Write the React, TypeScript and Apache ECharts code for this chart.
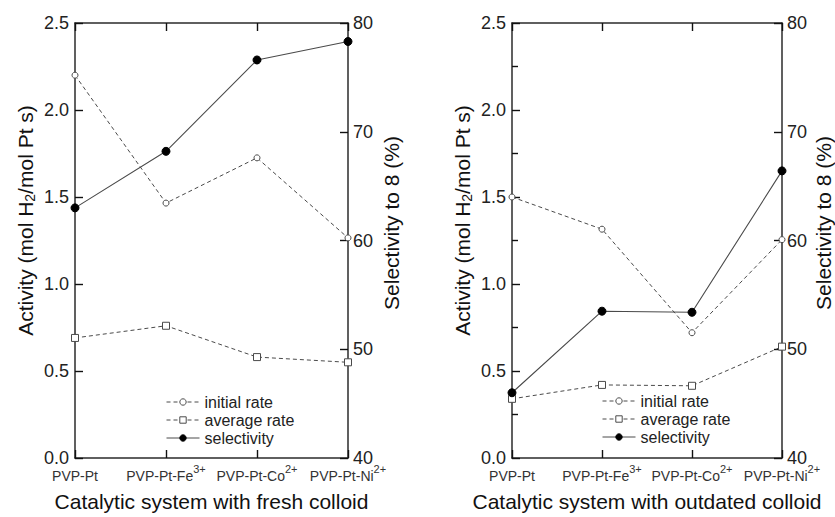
import React, { useEffect, useRef } from "react";
import * as echarts from "echarts";

const categories = ["PVP-Pt", "PVP-Pt-Fe", "PVP-Pt-Co", "PVP-Pt-Ni"];
const ionCharges = ["", "3+", "2+", "2+"];

const freshInitial = [2.2, 1.465, 1.725, 1.265];
const freshAverage = [0.69, 0.76, 0.58, 0.55];
const freshSelectivity = [63.0, 68.2, 76.6, 78.3];

const outdatedInitial = [1.5, 1.315, 0.72, 1.255];
const outdatedAverage = [0.34, 0.42, 0.415, 0.64];
const outdatedSelectivity = [46.0, 53.5, 53.4, 66.4];

const panelTitles = [
  "Catalytic system with fresh colloid",
  "Catalytic system with outdated colloid",
];
const legendNames = ["initial rate", "average rate", "selectivity"];

const FONT = "'Liberation Sans', Arial, Helvetica, sans-serif";
const AXIS = "#2b2b2b";
const TICK = "#111111";
const LINE = "#4a4a4a";

function tickStyle() {
  return { color: TICK, width: 1.4 };
}

function bottomX(gridIndex: number, title: string) {
  return {
    type: "category",
    gridIndex,
    data: categories,
    boundaryGap: false,
    axisLine: { lineStyle: { color: AXIS, width: 1.5 } },
    axisTick: { show: true, inside: true, length: 8, lineStyle: tickStyle() },
    splitLine: { show: false },
    axisLabel: {
      interval: 0,
      margin: 5,
      color: "#333",
      fontSize: 14,
      formatter: (v: string, i: number) =>
        ionCharges[i] ? `{a|${v}}{sup|${ionCharges[i]}}` : `{a|${v}}`,
      rich: {
        a: { fontSize: 14, color: "#333", padding: [6, 0, 0, 0] },
        sup: { fontSize: 11, color: "#333", padding: [0, 0, 9, 0] },
      },
    },
    name: title,
    nameLocation: "middle",
    nameGap: 33,
    nameTextStyle: { fontSize: 21, color: "#111" },
  };
}

function topX(gridIndex: number) {
  return {
    type: "category",
    gridIndex,
    position: "top",
    data: categories,
    boundaryGap: false,
    axisLine: { lineStyle: { color: AXIS, width: 1.5 } },
    axisTick: { show: true, inside: true, length: 8, lineStyle: tickStyle() },
    axisLabel: { show: false },
    splitLine: { show: false },
  };
}

function leftY(gridIndex: number, minor: boolean) {
  return {
    type: "value",
    gridIndex,
    position: "left",
    min: 0,
    max: 2.5,
    interval: 0.5,
    axisLine: { show: true, lineStyle: { color: AXIS, width: 1.5 } },
    axisTick: { show: true, inside: true, length: 8, lineStyle: tickStyle() },
    minorTick: { show: minor, splitNumber: 2, length: 6, lineStyle: tickStyle() },
    splitLine: { show: false },
    axisLabel: {
      margin: 6,
      fontSize: 18,
      color: "#222",
      formatter: (v: number) => v.toFixed(1),
    },
    name: "Activity (mol H{sub|2}/mol Pt s)",
    nameLocation: "middle",
    nameRotate: 90,
    nameGap: 38,
    nameTextStyle: {
      fontSize: 21,
      color: "#111",
      padding: [0, 0, 0, 40],
      rich: { sub: { fontSize: 14, color: "#111", padding: [9, 0, 0, 0] } },
    },
  };
}

function rightY(gridIndex: number, gap: number) {
  return {
    type: "value",
    gridIndex,
    position: "right",
    min: 40,
    max: 80,
    interval: 10,
    axisLine: { show: true, lineStyle: { color: AXIS, width: 1.5 } },
    axisTick: { show: true, inside: true, length: 8, lineStyle: tickStyle() },
    splitLine: { show: false },
    axisLabel: { margin: 5, fontSize: 18, color: "#222" },
    name: "Selectivity to 8 (%)",
    nameLocation: "middle",
    nameRotate: 90,
    nameGap: gap,
    nameTextStyle: { fontSize: 21, color: "#111", padding: [0, 0, 0, 35] },
  };
}

const openStyle = { color: "#fff", borderColor: LINE, borderWidth: 1 };
const filledStyle = { color: "#000", borderColor: "#000", borderWidth: 1 };

function panelSeries(
  xi: number,
  yl: number,
  yr: number,
  initial: number[],
  average: number[],
  selectivity: number[]
) {
  return [
    {
      name: legendNames[0],
      type: "line",
      xAxisIndex: xi,
      yAxisIndex: yl,
      data: initial,
      symbol: "circle",
      symbolSize: 6,
      itemStyle: { ...openStyle },
      lineStyle: { color: LINE, width: 1, type: [4, 3] },
      z: 3,
    },
    {
      name: legendNames[1],
      type: "line",
      xAxisIndex: xi,
      yAxisIndex: yl,
      data: average,
      symbol: "rect",
      symbolSize: 7,
      itemStyle: { ...openStyle },
      lineStyle: { color: LINE, width: 1, type: [4, 3] },
      z: 3,
    },
    {
      name: legendNames[2],
      type: "line",
      xAxisIndex: xi,
      yAxisIndex: yr,
      data: selectivity,
      symbol: "circle",
      symbolSize: 8,
      itemStyle: { ...filledStyle },
      lineStyle: { color: LINE, width: 1.1, type: "solid" },
      z: 4,
    },
  ];
}

function legendAt(left: number, top: number) {
  return {
    left,
    top,
    orient: "vertical",
    padding: 0,
    itemWidth: 33,
    itemHeight: 8,
    itemGap: 2,
    selectedMode: false,
    textStyle: { fontSize: 16, color: "#222" },
    data: [
      { name: legendNames[0], itemStyle: { ...openStyle }, lineStyle: { color: LINE, width: 1, type: [4, 3] } },
      { name: legendNames[1], itemStyle: { ...openStyle }, lineStyle: { color: LINE, width: 1, type: [4, 3] } },
      { name: legendNames[2], itemStyle: { ...filledStyle }, lineStyle: { color: LINE, width: 1, type: "solid" } },
    ],
  };
}

export default function App() {
  const ref = useRef<HTMLDivElement>(null);
  useEffect(() => {
    if (!ref.current) return;
    const chart = echarts.init(ref.current, undefined, { renderer: "svg" });
    chart.setOption({
      animation: false,
      backgroundColor: "#fff",
      textStyle: { fontFamily: FONT, color: "#222" },
      grid: [
        { left: 75, top: 23, width: 273, height: 438 },
        { left: 512, top: 23, width: 272, height: 438 },
      ],
      xAxis: [bottomX(0, panelTitles[0]), topX(0), bottomX(1, panelTitles[1]), topX(1)],
      yAxis: [leftY(0, false), rightY(0, 33), leftY(1, true), rightY(1, 31)],
      legend: [legendAt(166, 394), legendAt(602, 393)],
      series: [
        ...panelSeries(0, 0, 1, freshInitial, freshAverage, freshSelectivity),
        ...panelSeries(2, 2, 3, outdatedInitial, outdatedAverage, outdatedSelectivity),
      ],
    } as any);
    return () => chart.dispose();
  }, []);
  return (
    <div
      ref={ref}
      style={{ position: "absolute", left: 0, top: 0, width: 835, height: 517 }}
    />
  );
}
